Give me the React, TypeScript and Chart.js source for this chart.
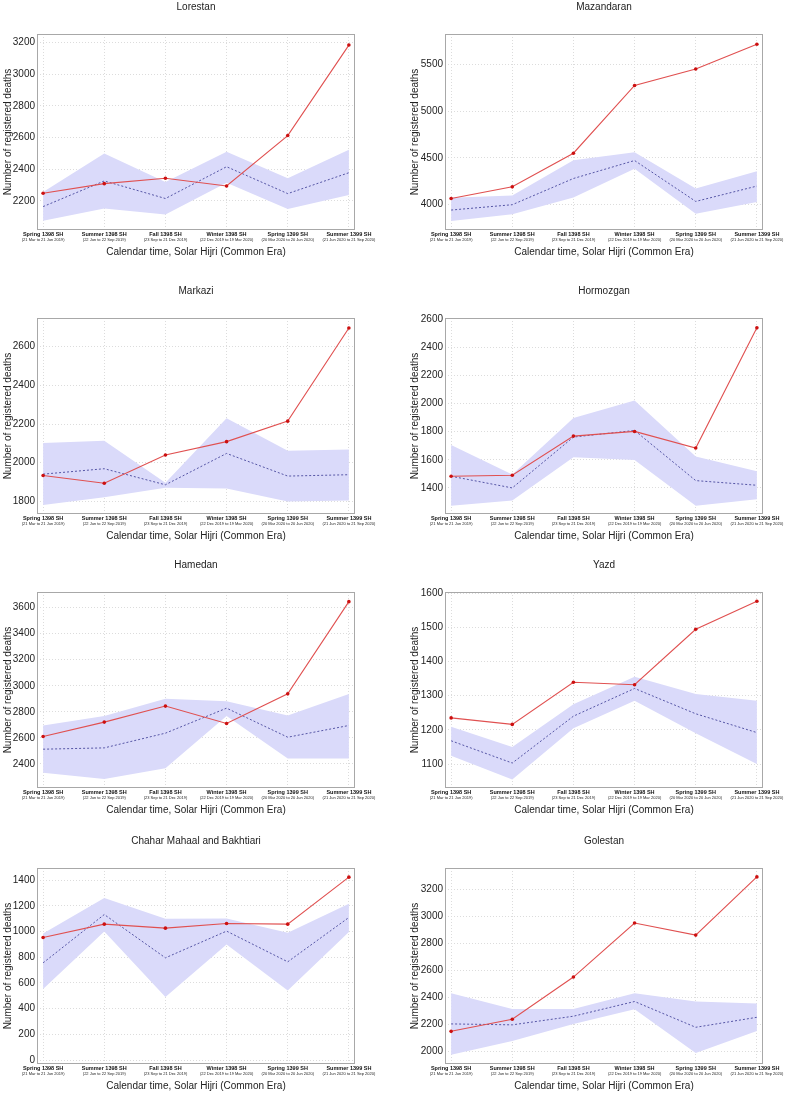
import React, { useEffect, useRef } from "react";
import { Chart, registerables } from "chart.js";

Chart.register(...registerables);

const categories = ["Spring 1398 SH", "Summer 1398 SH", "Fall 1398 SH", "Winter 1398 SH", "Spring 1399 SH", "Summer 1399 SH"];
const dateRanges = [
  "(21 Mar to 21 Jun 2019)",
  "(22 Jun to 22 Sep 2019)",
  "(23 Sep to 21 Dec 2019)",
  "(22 Dec 2019 to 19 Mar 2020)",
  "(20 Mar 2020 to 20 Jun 2020)",
  "(21 Jun 2020 to 21 Sep 2020)",
];

const lorestanObserved = [2248, 2309, 2343, 2294, 2613, 3185];
const lorestanExpected = [2164, 2326, 2215, 2416, 2246, 2378];
const lorestanUpper = [2257, 2500, 2320, 2510, 2343, 2523];
const lorestanLower = [2074, 2152, 2114, 2315, 2148, 2237];

const mazandaranObserved = [4067, 4191, 4550, 5273, 5450, 5713];
const mazandaranExpected = [3943, 4000, 4280, 4472, 4035, 4199];
const mazandaranUpper = [4074, 4099, 4475, 4560, 4174, 4358];
const mazandaranLower = [3826, 3897, 4078, 4383, 3904, 4028];

const markaziObserved = [1934, 1894, 2040, 2109, 2215, 2696];
const markaziExpected = [1941, 1969, 1886, 2048, 1931, 1938];
const markaziUpper = [2102, 2114, 1897, 2230, 2062, 2069];
const markaziLower = [1781, 1822, 1871, 1867, 1800, 1805];

const hormozganObserved = [1483, 1490, 1768, 1801, 1683, 2536];
const hormozganExpected = [1483, 1400, 1761, 1808, 1452, 1419];
const hormozganUpper = [1704, 1495, 1896, 2021, 1623, 1519];
const hormozganLower = [1274, 1310, 1618, 1599, 1274, 1319];

const hamedanObserved = [2610, 2721, 2844, 2710, 2938, 3646];
const hamedanExpected = [2513, 2523, 2636, 2828, 2605, 2695];
const hamedanUpper = [2695, 2767, 2900, 2882, 2772, 2936];
const hamedanLower = [2333, 2285, 2367, 2767, 2441, 2441];

const yazdObserved = [1235, 1216, 1339, 1332, 1494, 1576];
const yazdExpected = [1168, 1103, 1240, 1321, 1247, 1192];
const yazdUpper = [1209, 1150, 1275, 1355, 1305, 1285];
const yazdLower = [1124, 1055, 1205, 1285, 1190, 1100];

const chaharObserved = [953, 1057, 1026, 1062, 1057, 1423];
const chaharExpected = [756, 1132, 795, 1003, 764, 1109];
const chaharUpper = [984, 1260, 1099, 1101, 990, 1216];
const chaharLower = [553, 1000, 491, 899, 540, 997];

const golestanObserved = [2148, 2238, 2550, 2950, 2861, 3292];
const golestanExpected = [2203, 2196, 2260, 2369, 2178, 2252];
const golestanUpper = [2431, 2314, 2314, 2431, 2369, 2354];
const golestanLower = [1975, 2077, 2203, 2312, 1988, 2151];

// y axis ranges [min, max, step]
const lorestanAxis = [2016, 3255, 200];
const mazandaranAxis = [3730, 5823, 500];
const markaziAxis = [1735, 2748, 200];
const hormozganAxis = [1215, 2606, 200];
const hamedanAxis = [2215, 3720, 200];
const yazdAxis = [1030, 1603, 100];
const chaharAxis = [-31, 1494, 200];
const golestanAxis = [1906, 3358, 200];

const panels = [
  { title: "Lorestan", obs: lorestanObserved, exp: lorestanExpected, up: lorestanUpper, low: lorestanLower, axis: lorestanAxis },
  { title: "Mazandaran", obs: mazandaranObserved, exp: mazandaranExpected, up: mazandaranUpper, low: mazandaranLower, axis: mazandaranAxis },
  { title: "Markazi", obs: markaziObserved, exp: markaziExpected, up: markaziUpper, low: markaziLower, axis: markaziAxis },
  { title: "Hormozgan", obs: hormozganObserved, exp: hormozganExpected, up: hormozganUpper, low: hormozganLower, axis: hormozganAxis },
  { title: "Hamedan", obs: hamedanObserved, exp: hamedanExpected, up: hamedanUpper, low: hamedanLower, axis: hamedanAxis },
  { title: "Yazd", obs: yazdObserved, exp: yazdExpected, up: yazdUpper, low: yazdLower, axis: yazdAxis },
  { title: "Chahar Mahaal and Bakhtiari", obs: chaharObserved, exp: chaharExpected, up: chaharUpper, low: chaharLower, axis: chaharAxis },
  { title: "Golestan", obs: golestanObserved, exp: golestanExpected, up: golestanUpper, low: golestanLower, axis: golestanAxis },
];

const FONT = '"Liberation Sans", Arial, sans-serif';
const ROW_TOPS = [0, 284, 558, 834];
const CANVAS_W = 394;
const CANVAS_H = 262;

const decorPlugin = {
  id: "panelDecor",
  afterDraw(chart: any, _args: any, opts: any) {
    const { ctx, chartArea } = chart;
    const { left, top, right, bottom } = chartArea;
    ctx.save();
    ctx.strokeStyle = "#a8a8a8";
    ctx.lineWidth = 1;
    ctx.setLineDash([]);
    ctx.strokeRect(Math.round(left) + 0.5, Math.round(top) + 0.5, Math.round(right - left) - 1, Math.round(bottom - top) - 1);
    ctx.font = `10px ${FONT}`;
    ctx.fillStyle = "#222";
    ctx.textAlign = "center";
    ctx.textBaseline = "middle";
    ctx.fillText(opts.text, (left + right) / 2, top - 27);
    ctx.restore();
  },
};

function stepTicks(min: number, max: number, step: number) {
  const out: { value: number }[] = [];
  for (let v = Math.ceil(min / step) * step; v <= max + 1e-9; v += step) out.push({ value: v });
  return out;
}

function Panel({ panel, col }: { panel: any; col: number }) {
  const ref = useRef<HTMLCanvasElement | null>(null);
  useEffect(() => {
    if (!ref.current) return;
    const yWidth = col === 0 ? 37 : 51;
    const titlePad = col === 0 ? 2 : 15;
    const padRight = col === 0 ? 39 : 25;
    const toPts = (arr: number[]) => arr.map((y, i) => ({ x: i, y }));
    const xTicks = (s: any) => {
      s.ticks = stepTicks(0, categories.length - 1, 1);
    };
    const chart = new Chart(ref.current, {
      type: "line",
      data: {
        datasets: [
          {
            data: toPts(panel.obs),
            borderColor: "#e05050",
            borderWidth: 1.1,
            pointRadius: 1.8,
            pointBackgroundColor: "#cc1010",
            pointBorderWidth: 0,
            fill: false,
            tension: 0,
          },
          {
            data: toPts(panel.exp),
            borderColor: "#5656a6",
            borderWidth: 1,
            borderDash: [2, 2],
            pointRadius: 0,
            fill: false,
            tension: 0,
          },
          {
            data: toPts(panel.up),
            borderWidth: 0,
            borderColor: "rgba(0,0,0,0)",
            backgroundColor: "rgb(218,218,250)",
            pointRadius: 0,
            fill: "+1",
            tension: 0,
          },
          {
            data: toPts(panel.low),
            borderWidth: 0,
            borderColor: "rgba(0,0,0,0)",
            pointRadius: 0,
            fill: false,
            tension: 0,
          },
        ],
      },
      options: {
        animation: false,
        responsive: false,
        devicePixelRatio: 1,
        layout: { padding: { top: 34, right: padRight, left: 0, bottom: 0 } },
        plugins: {
          legend: { display: false },
          tooltip: { enabled: false },
          panelDecor: { text: panel.title },
        } as any,
        scales: {
          x: {
            type: "linear",
            position: "bottom",
            min: -0.1,
            max: 5.1,
            grid: { color: "#dcdcdc", drawTicks: false, lineWidth: 1 },
            border: { display: false, dash: [1, 2] },
            afterBuildTicks: xTicks,
            ticks: {
              autoSkip: false,
              maxRotation: 0,
              minRotation: 0,
              padding: 1,
              color: "#111",
              font: { family: FONT, size: 5.5, weight: "bold" },
              callback: (v: any) => categories[Math.round(v)] ?? "",
            },
            afterFit: (s: any) => {
              s.height = 7;
            },
          },
          x2: {
            type: "linear",
            position: "bottom",
            min: -0.1,
            max: 5.1,
            grid: { display: false, drawTicks: false },
            border: { display: false },
            afterBuildTicks: xTicks,
            ticks: {
              autoSkip: false,
              maxRotation: 0,
              minRotation: 0,
              padding: 0,
              color: "#222",
              font: { family: FONT, size: 4 },
              callback: (v: any) => dateRanges[Math.round(v)] ?? "",
            },
            title: {
              display: true,
              text: "Calendar time, Solar Hijri (Common Era)",
              color: "#222",
              font: { family: FONT, size: 10 },
              padding: { top: 0, bottom: 4 },
            },
            afterFit: (s: any) => {
              s.height = 25;
            },
          },
          y: {
            type: "linear",
            min: panel.axis[0],
            max: panel.axis[1],
            grid: { color: "#dcdcdc", drawTicks: false, lineWidth: 1 },
            border: { display: false, dash: [1, 2] },
            afterBuildTicks: (s: any) => {
              s.ticks = stepTicks(panel.axis[0], panel.axis[1], panel.axis[2]);
            },
            ticks: {
              padding: 2,
              color: "#222",
              font: { family: FONT, size: 10 },
              callback: (v: any) => String(Math.round(v)),
            },
            title: {
              display: true,
              text: "Number of registered deaths",
              color: "#222",
              font: { family: FONT, size: 10 },
              padding: { top: titlePad, bottom: 0 },
            },
            afterFit: (s: any) => {
              s.width = yWidth;
            },
          },
        },
      } as any,
      plugins: [decorPlugin],
    });
    return () => chart.destroy();
  }, [panel, col]);
  return <canvas ref={ref} width={CANVAS_W} height={CANVAS_H} style={{ display: "block", width: CANVAS_W, height: CANVAS_H }} />;
}

export default function App() {
  return (
    <div style={{ position: "absolute", left: 0, top: 0, width: 788, height: 1094, overflow: "hidden", background: "#fff" }}>
      {panels.map((p, i) => {
        const col = i % 2;
        const row = Math.floor(i / 2);
        return (
          <div key={p.title} style={{ position: "absolute", left: col * CANVAS_W, top: ROW_TOPS[row], width: CANVAS_W, height: CANVAS_H }}>
            <Panel panel={p} col={col} />
          </div>
        );
      })}
    </div>
  );
}
